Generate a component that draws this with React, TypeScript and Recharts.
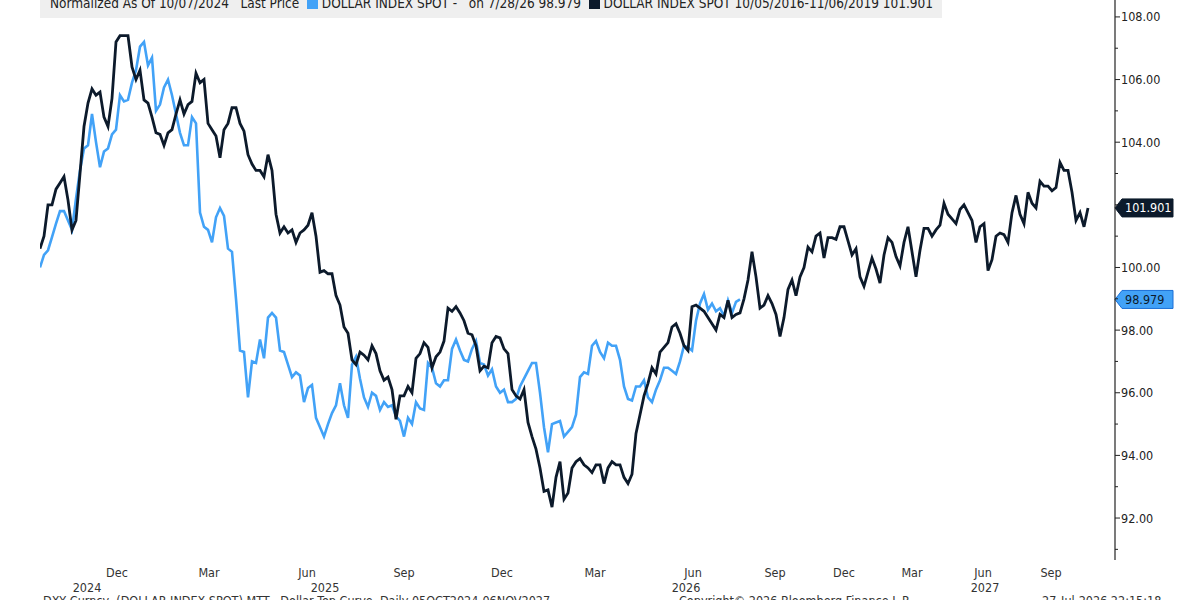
import React from "react";
import { LineChart, Line, XAxis, YAxis, ReferenceLine } from "recharts";

// x is a plain step index (evenly spaced on screen), ticks sit on it
const monthTicks = [19.25, 42.25, 66.75, 91, 115.5, 138.75, 163.25, 183.75, 201, 218, 235.75, 252.75];
const monthLabels = ["Dec", "Mar", "Jun", "Sep", "Dec", "Mar", "Jun", "Sep", "Dec", "Mar", "Jun", "Sep"];
const yearTicks = [11.75, 71.25, 161.5, 236.25];
const yearLabels = ["2024", "2025", "2026", "2027"];
const yTicks = [91, 92, 93, 94, 95, 96, 97, 98, 99, 100, 101, 102, 103, 104, 105, 106, 107, 108];
const yLabelled = [92, 94, 96, 98, 100, 104, 106, 108];

// DOLLAR INDEX SPOT, Oct 2024 -> Jul 2026 (normalized)
const dxyNow = [
  100.0, 100.4, 100.55, 100.97, 101.4, 101.8, 101.8, 101.5, 101.2, 102.2,
  103.1, 103.8, 103.9, 104.9, 104.0, 103.2, 103.7, 103.8, 104.25, 104.4,
  105.5, 105.3, 105.35, 105.9, 106.3, 107.05, 107.2, 106.45, 106.7, 105.0,
  105.2, 105.75, 106.0, 105.5, 104.9, 104.3, 103.9, 103.9, 104.8, 104.6,
  101.75, 101.3, 101.2, 100.8, 101.6, 101.9, 101.65, 100.6, 100.5, 99.0,
  97.35, 97.3, 95.85, 97.0, 96.95, 97.7, 97.1, 98.4, 98.55, 98.4,
  97.35, 97.3, 96.9, 96.5, 96.65, 96.55, 95.7, 96.15, 96.25, 95.2,
  94.9, 94.6, 95.0, 95.35, 95.6, 96.3, 95.6, 95.2, 96.9, 97.15,
  96.45, 95.85, 95.55, 96.0, 95.9, 95.45, 95.7, 95.55, 95.6, 95.25,
  95.1, 94.6, 95.2, 95.0, 95.7, 95.5, 95.45, 96.95, 96.8, 96.3,
  96.2, 96.4, 96.4, 97.4, 97.7, 97.35, 97.05, 97.0, 97.4, 97.65,
  96.95, 96.9, 96.55, 96.75, 96.2, 96.0, 96.1, 95.7, 95.7, 95.8,
  96.2, 96.45, 96.7, 96.95, 96.95, 96.0, 94.9, 94.1, 95.0, 95.05,
  95.1, 94.6, 94.75, 94.9, 95.3, 96.5, 96.65, 96.6, 97.5, 97.65,
  97.3, 97.1, 97.6, 97.5, 97.5, 97.05, 96.2, 95.8, 95.75, 96.2,
  96.2, 96.4, 95.85, 95.7, 96.1, 96.4, 96.8, 96.8, 96.7, 96.6,
  97.0, 97.5, 97.45, 97.35, 98.3, 98.85, 99.15, 98.65, 98.85, 98.6,
  98.7, 98.45, 98.95, 98.55, 98.9, 98.979,
];

// DOLLAR INDEX SPOT 10/05/2016-11/06/2019, laid over the same span
const dxy2016 = [
  100.6, 101.0, 102.0, 102.0, 102.5, 102.7, 102.9, 102.15, 101.2, 101.5,
  103.0, 104.5, 105.25, 105.7, 105.5, 105.6, 104.8, 104.5, 105.4, 107.2,
  107.4, 107.4, 107.4, 106.4, 106.0, 106.3, 105.35, 105.25, 104.8, 104.3,
  104.25, 103.9, 104.3, 104.4, 104.9, 105.35, 104.9, 105.2, 105.3, 106.2,
  105.9, 106.0, 104.6, 104.4, 104.2, 103.5, 104.4, 104.6, 105.1, 105.1,
  104.6, 104.35, 103.6, 103.3, 103.1, 103.1, 102.9, 103.6, 103.1, 101.7,
  101.1, 101.3, 101.1, 101.2, 100.8, 101.1, 101.2, 101.35, 101.75, 101.0,
  99.85, 99.9, 99.8, 99.8, 99.1, 98.8, 98.1, 97.9, 97.05, 96.9,
  97.3, 97.2, 97.05, 97.5, 97.25, 96.7, 96.4, 96.5, 96.1, 95.15,
  95.9, 95.9, 96.2, 96.0, 97.1, 97.25, 97.6, 97.45, 96.8, 97.15,
  97.3, 97.65, 98.7, 98.6, 98.75, 98.55, 98.3, 97.9, 97.85, 97.5,
  96.7, 96.85, 96.8, 97.6, 97.8, 97.75, 97.4, 97.25, 96.1, 95.9,
  95.8, 96.1, 95.05, 94.6, 94.2, 93.6, 92.85, 92.9, 92.35, 93.3,
  93.8, 92.6, 92.8, 93.6, 93.8, 93.9, 93.7, 93.6, 93.45, 93.7,
  93.7, 93.1, 93.6, 93.8, 93.7, 93.7, 93.3, 93.1, 93.4, 94.7,
  95.3, 95.9, 96.3, 96.8, 96.6, 97.3, 97.45, 97.6, 98.1, 98.2,
  97.9, 97.5, 97.35, 98.75, 98.8, 98.7, 98.6, 98.4, 98.2, 98.0,
  98.5, 98.4, 98.95, 98.4, 98.5, 98.55, 99.0, 99.6, 100.5, 99.7,
  98.7, 98.8, 99.1, 98.85, 98.5, 97.8, 98.4, 99.3, 99.6, 99.1,
  99.7, 100.0, 100.65, 100.5, 101.0, 101.1, 100.3, 100.95, 100.95, 100.9,
  101.3, 101.3, 100.85, 100.4, 100.6, 99.7, 99.4, 99.85, 100.3, 99.95,
  99.5, 100.4, 100.95, 100.8, 100.35, 100.05, 100.8, 101.3, 100.5, 99.7,
  100.55, 101.25, 101.25, 101.0, 101.2, 101.35, 102.05, 101.7, 101.55, 101.4,
  101.85, 102.0, 101.75, 101.5, 100.8, 101.3, 101.4, 99.9, 100.25, 101.0,
  101.1, 101.05, 100.8, 101.75, 102.3, 101.7, 101.4, 102.4, 102.05, 101.9,
  102.75, 102.6, 102.6, 102.45, 102.55, 103.35, 103.1, 103.1, 102.4, 101.5,
  101.75, 101.3, 101.901,
];

const points = dxy2016.map((v, i) => ({ i, past: v, now: dxyNow[i] }));

const BLUE = "#42a2f7";
const NAVY = "#0c1a2b";
const FONT = "'DejaVu Sans Condensed', 'Liberation Sans Narrow', 'DejaVu Sans', sans-serif";

function YTick({ x, y, payload }: any) {
  const big = yLabelled.includes(payload.value);
  return (
    <g>
      <line x1={x} x2={x + (big ? 5 : 3)} y1={y} y2={y} stroke="#222" strokeWidth={1} />
      {big && (
        <text x={x + 6} y={y + 4.5} fontSize={12.5} fill="#222" fontFamily={FONT}>
          {payload.value.toFixed(2)}
        </text>
      )}
    </g>
  );
}

function MonthTick({ x, y, payload, index }: any) {
  return (
    <text x={x} y={y + 17} textAnchor="middle" fontSize={12.5} fill="#333" fontFamily={FONT}>
      {monthLabels[index] ?? payload.value}
    </text>
  );
}

function YearTick({ x, y, payload, index }: any) {
  return (
    <text x={x} y={y + 12} textAnchor="middle" fontSize={12.5} fill="#333" fontFamily={FONT}>
      {yearLabels[index] ?? payload.value}
    </text>
  );
}

function tag(text: string, fill: string, stroke: string, color: string) {
  return ({ viewBox }: any) => {
    const x = viewBox.x + viewBox.width;
    const y = viewBox.y;
    return (
      <g>
        <path
          d={`M${x},${y} L${x + 7},${y - 9} L${x + 58},${y - 9} L${x + 58},${y + 9} L${x + 7},${y + 9} Z`}
          fill={fill}
          stroke={stroke}
          strokeWidth={1}
        />
        <text x={x + 10} y={y + 4.5} fontSize={12.5} fill={color} fontFamily={FONT}>
          {text}
        </text>
      </g>
    );
  };
}

export default function App() {
  const lastNow = dxyNow[dxyNow.length - 1];
  const lastPast = dxy2016[dxy2016.length - 1];
  return (
    <div style={{ position: "fixed", left: 0, top: 0, width: 1200, height: 600, overflow: "hidden", background: "#fff", fontFamily: FONT }}>
      <LineChart width={1200} height={600} data={points} margin={{ top: 0, right: 0, bottom: 0, left: 40 }}>
        <XAxis
          dataKey="i"
          type="number"
          domain={[0, 268.75]}
          ticks={monthTicks}
          tick={<MonthTick />}
          axisLine={false}
          tickLine={false}
          tickSize={0}
          tickMargin={0}
          height={20}
          interval={0}
          allowDataOverflow
        />
        <XAxis
          xAxisId="yr"
          dataKey="i"
          type="number"
          domain={[0, 268.75]}
          ticks={yearTicks}
          tick={<YearTick />}
          axisLine={false}
          tickLine={false}
          tickSize={0}
          tickMargin={0}
          height={20}
          interval={0}
          allowDataOverflow
        />
        <YAxis
          orientation="right"
          type="number"
          domain={[90.66, 108.54]}
          ticks={yTicks}
          tick={<YTick />}
          interval={0}
          tickLine={false}
          tickSize={0}
          tickMargin={0}
          axisLine={{ stroke: "#222", strokeWidth: 1.2 }}
          width={85}
          allowDataOverflow
        />
        <Line dataKey="now" stroke={BLUE} strokeWidth={2.6} dot={false} isAnimationActive={false} />
        <Line dataKey="past" stroke={NAVY} strokeWidth={2.8} dot={false} isAnimationActive={false} />
        <ReferenceLine y={lastPast} stroke="none" label={{ content: tag(lastPast.toFixed(3), NAVY, NAVY, "#fff") }} />
        <ReferenceLine y={lastNow} stroke="none" label={{ content: tag(lastNow.toFixed(3), BLUE, "#1a6fd6", NAVY) }} />
      </LineChart>
      <div
        style={{
          position: "absolute", left: 40, top: 0, width: 902, height: 18, background: "#efefef",
          fontSize: 13.5, color: "#222", whiteSpace: "pre", overflow: "hidden",
        }}
      >
        <div style={{ position: "absolute", left: 10, top: -5, lineHeight: "16px" }}>
          {"Normalized As Of 10/07/2024   Last Price  "}
          <span style={{ display: "inline-block", width: 11, height: 11, background: BLUE, verticalAlign: "-1px" }} />
          {" DOLLAR INDEX SPOT -   on 7/28/26 98.979  "}
          <span style={{ display: "inline-block", width: 11, height: 11, background: NAVY, verticalAlign: "-1px" }} />
          {" DOLLAR INDEX SPOT 10/05/2016-11/06/2019 101.901"}
        </div>
      </div>
      <div style={{ position: "absolute", left: 43, top: 593, fontSize: 12.5, color: "#333", whiteSpace: "pre", lineHeight: "16px" }}>
        {"DXY Curncy  (DOLLAR INDEX SPOT) MTT   Dollar Top Curve  Daily 05OCT2024-06NOV2027"}
      </div>
      <div style={{ position: "absolute", left: 679, top: 593, fontSize: 12.5, color: "#333", whiteSpace: "pre", lineHeight: "16px" }}>
        {"Copyright\u00a9 2026 Bloomberg Finance L.P."}
      </div>
      <div style={{ position: "absolute", left: 1042, top: 593, fontSize: 12.5, color: "#333", whiteSpace: "pre", lineHeight: "16px" }}>
        {"27-Jul-2026 22:15:18"}
      </div>
    </div>
  );
}
